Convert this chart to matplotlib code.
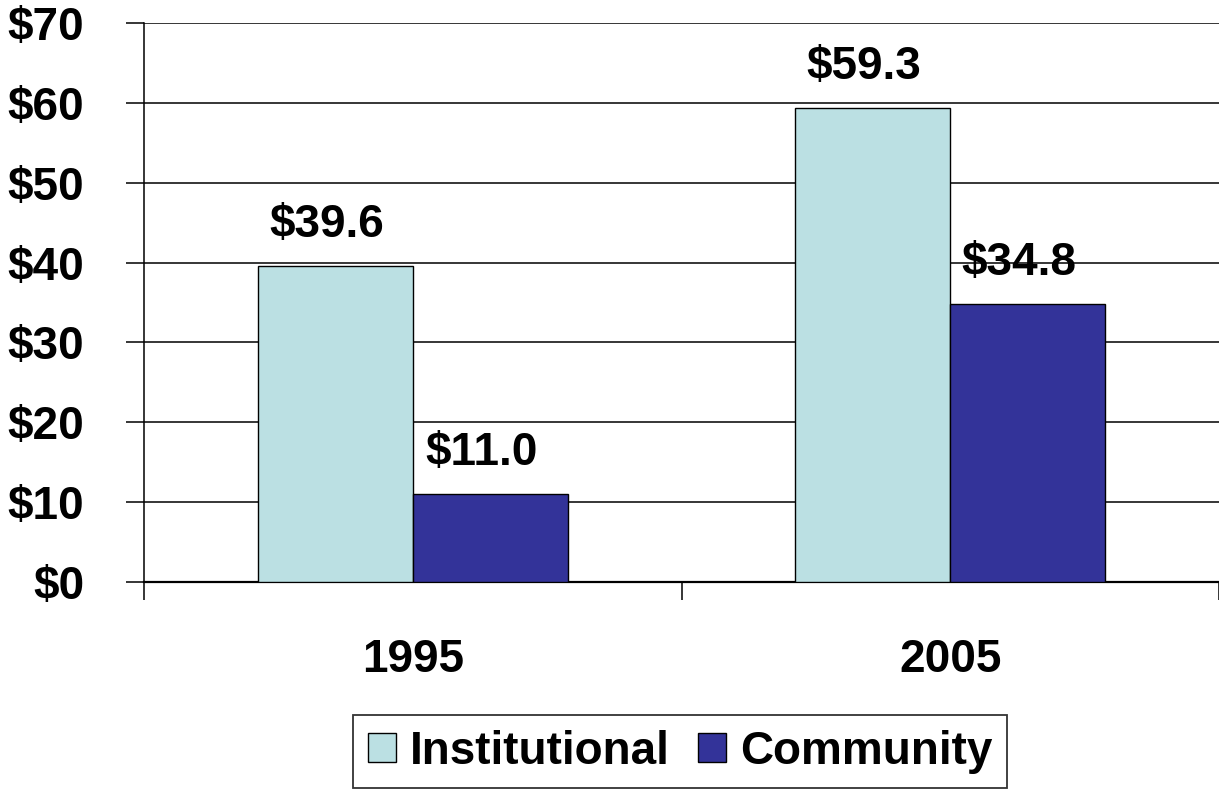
import matplotlib
matplotlib.use("Agg")
import matplotlib.pyplot as plt
from matplotlib.patches import Patch

years = ["1995", "2005"]
series_names = ["Institutional", "Community"]
institutional = [39.6, 59.3]
community = [11.0, 34.8]
yticks = [0, 10, 20, 30, 40, 50, 60, 70]
colors = ["#BBE0E3", "#333399"]

plt.rcParams['font.family'] = ['Liberation Sans', 'DejaVu Sans']
plt.rcParams['font.weight'] = 'bold'
FS = 33

fig = plt.figure(figsize=(12.19, 7.89), dpi=100)
ax = fig.add_axes([144/1219, 1-582/789, 1-144/1219, (582-23)/789])

centers = [0.5, 1.5]
w = 0.288
for i, (vals, name, c) in enumerate(zip([institutional, community], series_names, colors)):
    xs = [cx + (i - 0.5) * w for cx in centers]
    ax.bar(xs, vals, width=w, color=c, edgecolor='black', linewidth=1.0, zorder=3)
    for x, v in zip(xs, vals):
        ax.annotate(f"${v:.1f}", (x, v), xytext=(-6.5, 21), textcoords='offset points',
                    ha='center', va='baseline', fontsize=FS, fontweight='bold', zorder=4)

ax.set_xlim(0, 2)
ax.set_ylim(0, 70)
ax.set_yticks(yticks)
ax.set_yticklabels([f"${t}" for t in yticks])
ax.yaxis.grid(True, color='black', linewidth=1.1, zorder=0)
ax.set_axisbelow(True)
ax.tick_params(axis='y', length=13, width=1.1, pad=30, labelsize=FS, direction='out')

ax.set_xticks([0, 1, 2])
ax.set_xticklabels([])
ax.set_xticks(centers, minor=True)
ax.set_xticklabels(years, minor=True)
ax.tick_params(axis='x', which='major', length=13, width=1.1, direction='out')
ax.tick_params(axis='x', which='minor', length=0, pad=40, labelsize=FS)
for lab in ax.get_xticklabels(minor=True) + ax.get_yticklabels():
    lab.set_fontweight('bold')

ax.spines['top'].set_visible(False)
ax.spines['right'].set_visible(False)
ax.spines['left'].set_linewidth(1.1)
ax.spines['bottom'].set_linewidth(1.6)

handles = [Patch(facecolor=c, edgecolor='black', linewidth=1.0) for c in colors]
leg = fig.legend(handles, series_names, loc='center', bbox_to_anchor=(680/1219, 1-751.5/789),
                 ncol=2, frameon=True, fancybox=False, edgecolor='black',
                 prop={'size': FS, 'weight': 'bold'}, handlelength=0.62, handleheight=0.62,
                 handletextpad=0.3, columnspacing=0.6, borderpad=0.32, borderaxespad=0)
leg.get_frame().set_linewidth(1.3)

fig.savefig("out.png", dpi=100)
